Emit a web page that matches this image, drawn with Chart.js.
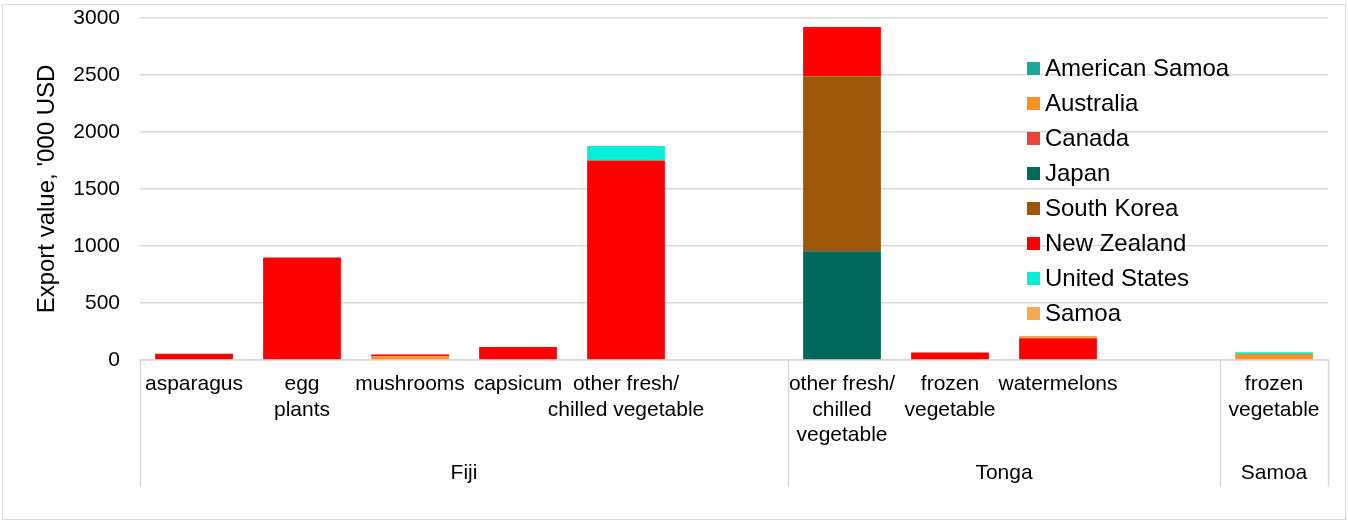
<!DOCTYPE html>
<html>
<head>
<meta charset="utf-8">
<script src="https://cdn.jsdelivr.net/npm/chart.js@4.4.1/dist/chart.umd.min.js"></script>
<style>
  html, body { margin: 0; padding: 0; background: #fff; }
  #wrap { position: relative; width: 1348px; height: 521px; }
  #frame { position: absolute; left: 2px; top: 4px; width: 1344px; height: 516px; border: 1px solid #d9d9d9; box-sizing: border-box; }
  #c { position: absolute; left: 0; top: 0; }
</style>
</head>
<body>
<div id="wrap">
  <div id="frame"></div>
  <canvas id="c" width="1348" height="521"></canvas>
</div>
<script>
// categories (multi-line labels), one empty slot between country groups
const categories = [
  'asparagus', ['egg', 'plants'], 'mushrooms', 'capsicum', ['other fresh/', 'chilled vegetable'], '',
  ['other fresh/', 'chilled', 'vegetable'], ['frozen', 'vegetable'], 'watermelons', '',
  ['frozen', 'vegetable']
];
// country groups on the second axis level (first and last category index)
const groupNames = ['Fiji', 'Tonga', 'Samoa'];
const groupStart = [0, 6, 10];
const groupEnd = [5, 9, 10];

// export value, '000 USD, by destination
const americanSamoa = [0, 0, 0, 0, 0, 0, 0, 0, 0, 0, 0];
const australia     = [0, 0, 33, 0, 0, 0, 0, 0, 0, 0, 52];
const canada        = [0, 0, 0, 0, 0, 0, 0, 0, 0, 0, 0];
const japan         = [0, 0, 0, 0, 0, 0, 955, 0, 0, 0, 0];
const southKorea    = [0, 0, 0, 0, 0, 0, 1535, 0, 0, 0, 0];
const newZealand    = [55, 900, 15, 115, 1750, 0, 430, 65, 190, 0, 0];
const unitedStates  = [0, 0, 0, 0, 128, 0, 0, 0, 0, 0, 16];
const samoa         = [0, 0, 0, 0, 0, 0, 0, 0, 20, 0, 0];

const yTicks = [0, 500, 1000, 1500, 2000, 2500, 3000];

const FONT = '"Liberation Sans", Arial, sans-serif';

const series = [
  { label: 'American Samoa', data: americanSamoa, color: '#17a999' },
  { label: 'Australia', data: australia, color: '#f7931e' },
  { label: 'Canada', data: canada, color: '#ef4136' },
  { label: 'Japan', data: japan, color: '#00695c' },
  { label: 'South Korea', data: southKorea, color: '#9e5708' },
  { label: 'New Zealand', data: newZealand, color: '#ff0000' },
  { label: 'United States', data: unitedStates, color: '#00efd6' },
  { label: 'Samoa', data: samoa, color: '#f9a94b' }
];

// second level of the category axis: country names + separators
const groupAxis = {
  id: 'groupAxis',
  afterDraw(chart) {
    const ctx = chart.ctx;
    const x = chart.scales.x;
    const bottom = chart.chartArea.bottom;
    const step = x.width / categories.length;
    ctx.save();
    ctx.strokeStyle = '#d9d9d9';
    ctx.lineWidth = 1.5;
    const edges = [x.left];
    groupEnd.forEach(e => edges.push(x.getPixelForValue(e) + step / 2));
    edges.forEach(px => {
      ctx.beginPath();
      ctx.moveTo(Math.round(px) + 0.5, bottom);
      ctx.lineTo(Math.round(px) + 0.5, bottom + 127);
      ctx.stroke();
    });
    ctx.fillStyle = '#000';
    ctx.font = '21px ' + FONT;
    ctx.textAlign = 'center';
    ctx.textBaseline = 'middle';
    groupNames.forEach((name, i) => {
      const cx = (x.getPixelForValue(groupStart[i]) + x.getPixelForValue(groupEnd[i])) / 2;
      ctx.fillText(name, cx, bottom + 113);
    });
    ctx.restore();
  }
};

// legend drawn inside the plot area, top right
const insideLegend = {
  id: 'insideLegend',
  afterDraw(chart) {
    const ctx = chart.ctx;
    const area = chart.chartArea;
    const x0 = area.right - 301;
    const y0 = area.top + 51;
    ctx.save();
    ctx.font = '24px ' + FONT;
    ctx.textBaseline = 'middle';
    ctx.textAlign = 'left';
    chart.data.datasets.forEach((ds, i) => {
      const y = y0 + i * 35;
      ctx.fillStyle = ds.backgroundColor;
      ctx.fillRect(x0, y - 7, 13, 13);
      ctx.fillStyle = '#000';
      ctx.fillText(ds.label, x0 + 18, y);
    });
    ctx.restore();
  }
};

const config = {
  type: 'bar',
  data: {
    labels: categories,
    datasets: series.map(s => ({
      label: s.label,
      data: s.data,
      backgroundColor: s.color,
      borderWidth: 0,
      categoryPercentage: 1,
      barPercentage: 0.72
    }))
  },
  options: {
    responsive: false,
    animation: false,
    layout: { padding: { top: 18, left: 29, right: 20, bottom: 0 } },
    plugins: {
      legend: { display: false },
      tooltip: { enabled: false }
    },
    scales: {
      x: {
        stacked: true,
        grid: { display: false, drawTicks: false },
        border: { display: true, color: '#d9d9d9', width: 1.5 },
        ticks: {
          autoSkip: false, maxRotation: 0, minRotation: 0, padding: 12,
          color: '#000', font: { family: FONT, size: 21 }
        },
        afterFit(s) { s.height = 161; }
      },
      y: {
        stacked: true,
        min: 0,
        max: 3000,
        afterBuildTicks(s) { s.ticks = yTicks.map(v => ({ value: v })); },
        grid: { color: '#d9d9d9', lineWidth: 1.5, drawTicks: false },
        border: { display: false },
        ticks: {
          padding: 20, color: '#000', font: { family: FONT, size: 21 },
          callback: v => String(v)
        },
        title: {
          display: true,
          text: "Export value, '000 USD",
          color: '#000',
          font: { family: FONT, size: 24 }
        },
        afterFit(s) {
          s.width = 111;
          // tick padding would otherwise push the plot top down
          s.paddingTop = 14;
          s.paddingBottom = 0;
        }
      }
    }
  },
  plugins: [groupAxis, insideLegend]
};

const ctx = document.getElementById('c').getContext('2d');
const chart = new Chart(ctx, config);
</script>
</body>
</html>
